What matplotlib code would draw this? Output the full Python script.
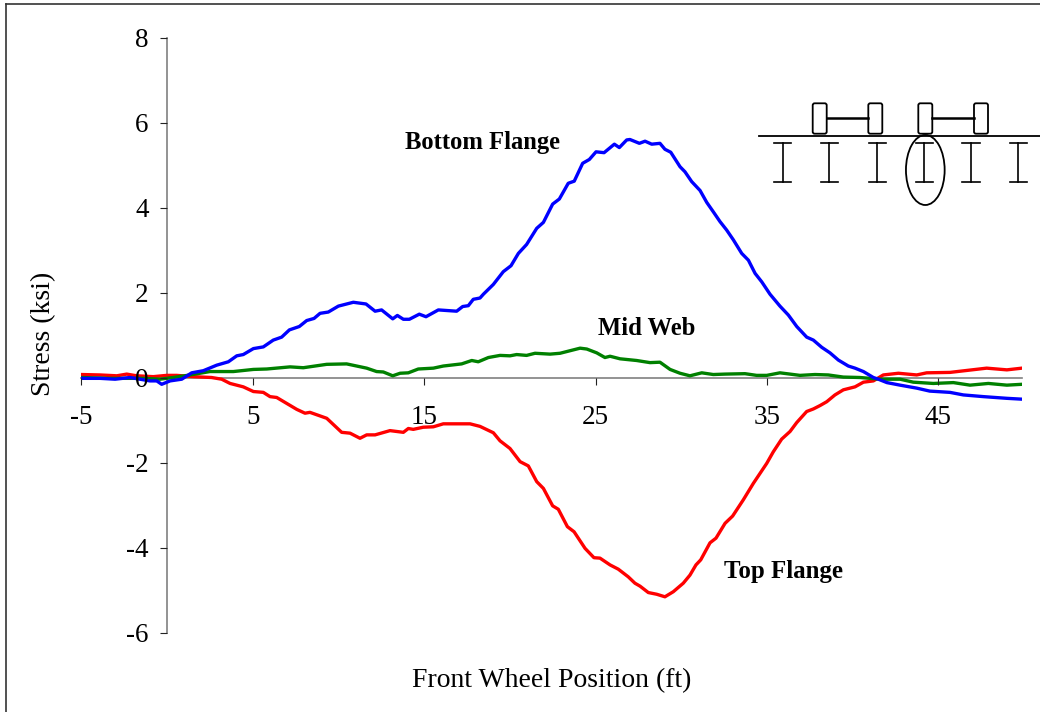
import matplotlib
matplotlib.use('Agg')
import matplotlib.pyplot as plt
from matplotlib.patches import Ellipse, FancyBboxPatch

plt.rcParams['font.family'] = ['Liberation Serif', 'DejaVu Serif']
plt.rcParams['axes.unicode_minus'] = False

# values
bottom_x = [-4.98, -3.91, -3.03, -2.16, -1.0, -0.6, -0.31, 0.18, 0.86, 1.44, 2.12, 2.9, 3.58, 4.07, 4.45,
            5.04, 5.62, 6.2, 6.69, 7.14, 7.72, 8.15, 8.58, 8.93, 9.41, 10.0, 10.87, 11.61, 12.14, 12.52,
            13.17, 13.44, 13.79, 14.14, 14.72, 15.11, 15.83, 16.9, 17.25, 17.58, 17.87, 18.26, 18.46, 19.04,
            19.62, 20.07, 20.5, 20.98, 21.57, 21.96, 22.5, 22.89, 23.41, 23.76, 24.25, 24.64, 25.03, 25.5,
            26.1, 26.39, 26.82, 27.01, 27.56, 27.89, 28.28, 28.76, 29.05, 29.39, 29.93, 30.22, 30.61, 31.1,
            31.49, 31.87, 32.26, 32.65, 33.04, 33.53, 33.92, 34.31, 34.7, 35.18, 35.76, 36.25, 36.74, 37.32,
            37.71, 38.2, 38.68, 39.17, 39.75, 40.14, 40.63, 41.21, 41.5, 42.0, 42.77, 43.74, 44.5, 45.68,
            46.46, 47.63, 49.0, 49.88]
bottom_y = [-0.02, -0.02, -0.04, 0.0, -0.08, -0.08, -0.16, -0.08, -0.04, 0.11, 0.16, 0.29, 0.37, 0.51, 0.54,
            0.68, 0.72, 0.88, 0.95, 1.12, 1.2, 1.34, 1.39, 1.51, 1.54, 1.68, 1.77, 1.73, 1.56, 1.59,
            1.38, 1.46, 1.37, 1.37, 1.49, 1.43, 1.59, 1.56, 1.67, 1.69, 1.84, 1.87, 1.96, 2.19,
            2.49, 2.63, 2.92, 3.13, 3.51, 3.65, 4.08, 4.2, 4.57, 4.62, 5.04, 5.13, 5.31, 5.29,
            5.49, 5.41, 5.59, 5.6, 5.51, 5.56, 5.49, 5.51, 5.37, 5.3, 4.96, 4.84, 4.61, 4.4,
            4.12, 3.9, 3.67, 3.47, 3.24, 2.92, 2.76, 2.45, 2.25, 1.96, 1.68, 1.47, 1.2, 0.95,
            0.88, 0.71, 0.58, 0.41, 0.27, 0.22, 0.14, 0.0, -0.04, -0.12, -0.18, -0.25, -0.32, -0.35,
            -0.41, -0.45, -0.49, -0.51]

top_x = [-4.98, -3.91, -2.93, -2.35, -1.77, -0.8, -0.02, 0.57, 1.53, 2.6, 3.19, 3.68, 4.45, 5.04, 5.62, 6.01,
         6.4, 7.57, 8.05, 8.34, 9.32, 10.19, 10.68, 11.26, 11.65, 12.14, 13.01, 13.79, 14.08, 14.37, 14.95,
         15.54, 16.12, 17.68, 18.26, 19.04, 19.43, 20.01, 20.6, 21.08, 21.57, 21.96, 22.5, 22.83, 23.36,
         23.75, 24.39, 24.91, 25.26, 25.85, 26.33, 26.91, 27.3, 27.6, 28.08, 28.57, 29.05, 29.54, 30.12,
         30.51, 30.86, 31.14, 31.68, 32.03, 32.56, 33.0, 33.62, 34.21, 34.99, 35.37, 35.86, 36.35, 36.74,
         37.32, 37.71, 38.1, 38.49, 38.97, 39.46, 40.14, 40.63, 41.21, 41.79, 42.67, 43.74, 44.32, 45.68,
         47.82, 49.0, 49.88]
top_y = [0.07, 0.06, 0.04, 0.08, 0.04, 0.02, 0.05, 0.05, 0.02, 0.0, -0.04, -0.14, -0.22, -0.33, -0.35, -0.45,
         -0.47, -0.75, -0.84, -0.82, -0.96, -1.29, -1.31, -1.43, -1.35, -1.35, -1.25, -1.29, -1.2, -1.22, -1.17,
         -1.16, -1.09, -1.09, -1.15, -1.3, -1.49, -1.67, -1.98, -2.08, -2.45, -2.61, -3.02, -3.1, -3.51,
         -3.63, -4.02, -4.24, -4.25, -4.41, -4.51, -4.69, -4.84, -4.91, -5.06, -5.1, -5.16, -5.04, -4.84,
         -4.65, -4.41, -4.29, -3.89, -3.78, -3.43, -3.26, -2.88, -2.49, -2.02, -1.75, -1.45, -1.27, -1.06,
         -0.8, -0.74, -0.66, -0.57, -0.41, -0.29, -0.22, -0.11, -0.08, 0.06, 0.1, 0.06, 0.11, 0.12,
         0.22, 0.18, 0.22]

mid_x = [-4.98, -3.33, -1.38, -0.41, 0.37, 1.34, 2.51, 3.87, 5.04, 5.82, 7.18, 7.95, 9.32, 10.48, 11.65, 12.23,
         12.62, 13.17, 13.6, 14.08, 14.66, 15.54, 16.12, 17.19, 17.78, 18.16, 18.75, 19.43, 20.01, 20.4, 20.98,
         21.47, 22.35, 22.93, 24.1, 24.49, 25.07, 25.55, 25.85, 26.43, 27.4, 28.18, 28.76, 29.35, 29.93, 30.51,
         31.2, 31.87, 32.56, 33.72, 34.4, 34.99, 35.76, 36.93, 37.81, 38.58, 39.46, 40.43, 41.6, 42.77, 43.54,
         44.71, 45.88, 46.85, 47.92, 49.0, 49.88]
mid_y = [0.0, -0.02, -0.02, -0.04, 0.0, 0.06, 0.14, 0.14, 0.19, 0.2, 0.25, 0.23, 0.31, 0.32, 0.22, 0.14,
         0.13, 0.04, 0.1, 0.11, 0.2, 0.22, 0.27, 0.32, 0.4, 0.37, 0.47, 0.52, 0.51, 0.54, 0.52,
         0.57, 0.55, 0.57, 0.69, 0.67, 0.58, 0.47, 0.5, 0.44, 0.4, 0.35, 0.36, 0.19, 0.1, 0.04,
         0.11, 0.07, 0.08, 0.09, 0.05, 0.05, 0.11, 0.05, 0.07, 0.06, 0.01, 0.0, -0.04, -0.04, -0.11,
         -0.14, -0.12, -0.18, -0.14, -0.18, -0.16]

x_ticks = [-5, 5, 15, 25, 35, 45]
y_ticks = [-6, -4, -2, 0, 2, 4, 6, 8]

W, H = 1040, 712
fig = plt.figure(figsize=(W / 100, H / 100), dpi=100, facecolor='white')

# overlay in pixels for the outer frame and the truck sketch
over = fig.add_axes([0, 0, 1, 1], zorder=3)
over.set_xlim(0, W)
over.set_ylim(H, 0)
over.axis('off')
over.patch.set_alpha(0)

ax = fig.add_axes([81.3 / W, 1 - 632.5 / H, (1022.3 - 81.3) / W, 595 / H])
ax.plot(top_x, top_y, color='#ff0000', lw=2.4, solid_joinstyle='round')
ax.plot(mid_x, mid_y, color='#008000', lw=2.4, solid_joinstyle='round')
ax.plot(bottom_x, bottom_y, color='#0000ff', lw=2.4, solid_joinstyle='round')

ax.set_xlim(-5, 49.9)
ax.set_ylim(-6, 8)
ax.set_axisbelow(False)  # keeps the 0 label on top of the lines
for s in ['top', 'right']:
    ax.spines[s].set_visible(False)
ax.spines['left'].set_position(('data', 0))
ax.spines['bottom'].set_position(('data', 0))
for s in ['left', 'bottom']:
    ax.spines[s].set_color('#808080')
    ax.spines[s].set_linewidth(1.2)
    ax.spines[s].set_zorder(1)
ax.set_xticks(x_ticks)
ax.set_yticks(y_ticks)
ax.tick_params(axis='x', direction='out', length=5.2, width=0.8, color='#222222', labelsize=19.5, pad=14.5)
ax.tick_params(axis='y', direction='out', length=5.2, width=0.8, color='#222222', labelsize=19.5, pad=8)

ax.text(13.89, 5.53, 'Bottom Flange', fontsize=17.7, fontweight='bold', va='center')
ax.text(25.15, 1.15, 'Mid Web', fontsize=17.7, fontweight='bold', va='center')
ax.text(32.5, -4.57, 'Top Flange', fontsize=17.9, fontweight='bold', va='center')

over.text(552, 681, 'Front Wheel Position (ft)', fontsize=20, ha='center', va='center')
over.text(44, 334, 'Stress (ksi)', fontsize=20, rotation=90, ha='center', va='center')

# outer frame
over.plot([6, 6], [712, 4], color='#333333', lw=1.2)
over.plot([6, 1040], [4, 4], color='#333333', lw=1.2)

# truck sketch
over.plot([759, 1040], [135.7, 135.7], color='black', lw=1.3)
for left in [812.7, 868.3, 918.3, 974.0]:
    over.add_patch(FancyBboxPatch((left + 2, 105.3), 10, 26.4, boxstyle='round,pad=2',
                                  fc='white', ec='black', lw=1.3))
for a, b in [(826.7, 868.3), (932.3, 974.0)]:
    over.plot([a, b], [118, 118], color='black', lw=1.8)
for cx in [782.7, 829.3, 877.3, 924.3, 971.0, 1018.3]:
    over.plot([cx, cx], [142.7, 181.7], color='black', lw=1.2)
    over.plot([cx - 8.7, cx + 8.7], [142.7, 142.7], color='black', lw=1.2)
    over.plot([cx - 8.7, cx + 8.7], [181.7, 181.7], color='black', lw=1.2)
over.add_patch(Ellipse((925.3, 170), 38.7, 70, fc='none', ec='black', lw=1.3))

fig.savefig('out.png', dpi=100)
